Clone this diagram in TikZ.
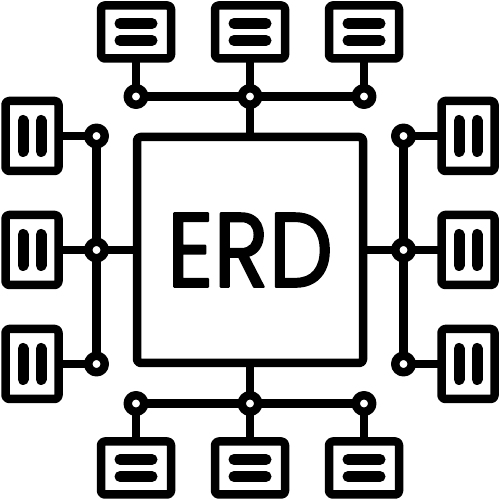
\documentclass[tikz,border=0pt]{standalone}
\usepackage{fontspec}
\usepackage{tikz}
\usetikzlibrary{positioning}
\newfontfamily\erdfont{Poppins}[FakeBold=2]

\begin{document}
\begin{tikzpicture}[
    line width=0.17cm,
    line join=round,
    node distance=0.76cm,  % gap from a joint to its table
    hub/.style = {draw, rectangle, rounded corners=2pt, minimum size=4.52cm, inner sep=0pt, outer sep=0pt},
    wide/.style = {draw, rectangle, rounded corners=2pt, minimum width=1.4cm, minimum height=1.06cm, inner sep=0pt, outer sep=0pt},
    tall/.style = {draw, rectangle, rounded corners=2pt, minimum width=1.06cm, minimum height=1.4cm, inner sep=0pt, outer sep=0pt},
    joint/.style = {draw, circle, fill=white, minimum size=0.33cm, inner sep=0pt, outer sep=0pt},
    bar/.style = {line width=0.22cm, line cap=round}
  ]
    \useasboundingbox (0,0) rectangle (10,10);

    \node[hub] (erd) at (5,5) {};
    \node[font=\erdfont\fontsize{60}{60}\selectfont, xscale=0.86] (label) at (5,5) {ERD};

    % joints round the hub
    \node[joint] (tc1) at (2.72,8.07) {};
    \node[joint] (tc2) at (5,8.07) {};
    \node[joint] (tc3) at (7.28,8.07) {};
    \node[joint] (bc1) at (2.72,1.93) {};
    \node[joint] (bc2) at (5,1.93) {};
    \node[joint] (bc3) at (7.28,1.93) {};
    \node[joint] (lc1) at (1.93,7.28) {};
    \node[joint] (lc2) at (1.93,5) {};
    \node[joint] (lc3) at (1.93,2.72) {};
    \node[joint] (rc1) at (8.07,7.28) {};
    \node[joint] (rc2) at (8.07,5) {};
    \node[joint] (rc3) at (8.07,2.72) {};

    % tables
    \node[wide] (t1) [above=of tc1.center] {};
    \node[wide] (t2) [above=of tc2.center] {};
    \node[wide] (t3) [above=of tc3.center] {};
    \node[wide] (b1) [below=of bc1.center] {};
    \node[wide] (b2) [below=of bc2.center] {};
    \node[wide] (b3) [below=of bc3.center] {};
    \node[tall] (l1) [left=of lc1.center] {};
    \node[tall] (l2) [left=of lc2.center] {};
    \node[tall] (l3) [left=of lc3.center] {};
    \node[tall] (r1) [right=of rc1.center] {};
    \node[tall] (r2) [right=of rc2.center] {};
    \node[tall] (r3) [right=of rc3.center] {};

    \foreach \t in {t1,t2,t3,b1,b2,b3} {
      \draw[bar] ([shift={(-0.32,0.17)}]\t.center) -- ([shift={(0.32,0.17)}]\t.center);
      \draw[bar] ([shift={(-0.32,-0.17)}]\t.center) -- ([shift={(0.32,-0.17)}]\t.center);
    }
    \foreach \t in {l1,l2,l3,r1,r2,r3} {
      \draw[bar] ([shift={(-0.18,-0.31)}]\t.center) -- ([shift={(-0.18,0.31)}]\t.center);
      \draw[bar] ([shift={(0.18,-0.31)}]\t.center) -- ([shift={(0.18,0.31)}]\t.center);
    }

    % buses
    \draw (tc1) -- (tc2) -- (tc3);
    \draw (bc1) -- (bc2) -- (bc3);
    \draw (lc1) -- (lc2) -- (lc3);
    \draw (rc1) -- (rc2) -- (rc3);
    \draw (tc2) -- (erd.north);
    \draw (bc2) -- (erd.south);
    \draw (lc2) -- (erd.west);
    \draw (rc2) -- (erd.east);

    \foreach \i in {1,2,3} {
      \draw (tc\i) -- (t\i);
      \draw (bc\i) -- (b\i);
      \draw (lc\i) -- (l\i);
      \draw (rc\i) -- (r\i);
    }
  \end{tikzpicture}
\end{document}
